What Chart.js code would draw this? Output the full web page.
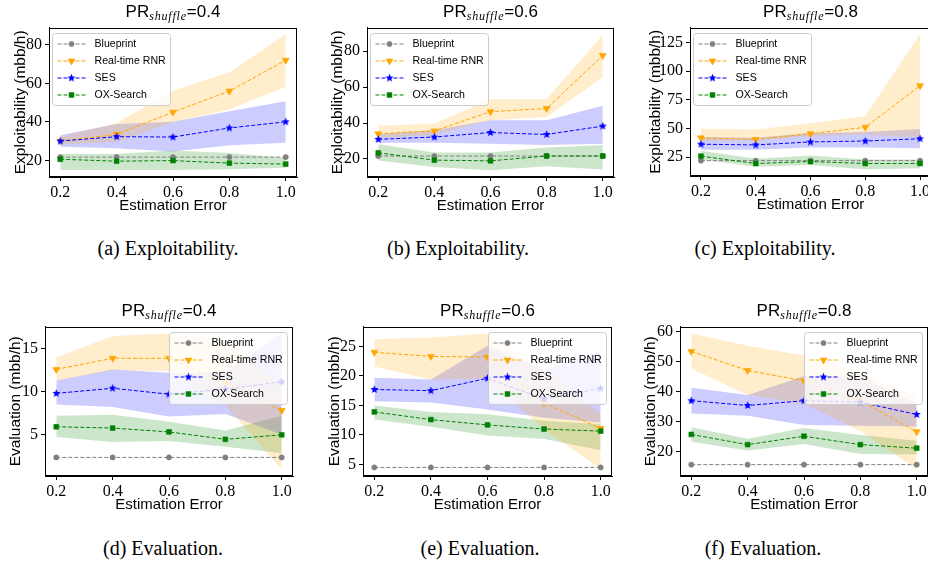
<!DOCTYPE html>
<html>
<head>
<meta charset="utf-8">
<title>Exploitability and evaluation vs estimation error</title>
<script src="https://cdn.jsdelivr.net/npm/chart.js@4.4.1/dist/chart.umd.min.js"></script>
<style>
  html, body { margin: 0; padding: 0; background: #fff; }
  body { position: relative; width: 928px; height: 564px; overflow: hidden; }
  .plot { position: absolute; }
  .ttl { position: absolute; width: 260px; text-align: center; font-family: "Liberation Sans", sans-serif;
         font-size: 17px; line-height: 20px; color: #000; white-space: nowrap; }
  .ttl sub { font-family: "Liberation Serif", serif; font-style: italic; font-size: 12px; line-height: 0;
             vertical-align: -3px; letter-spacing: 0.8px; }
  .cap { position: absolute; width: 300px; text-align: center; font-family: "Liberation Serif", serif;
         font-size: 20px; line-height: 24px; color: #000; }
</style>
</head>
<body>
<script>
// x values and labels shared by all six panels
const errors = [0.2, 0.4, 0.6, 0.8, 1.0];
const xTickValues = [0.2, 0.4, 0.6, 0.8, 1.0];
const seriesNames = ['Blueprint', 'Real-time RNR', 'SES', 'OX-Search'];

// (a) exploitability, PR_shuffle = 0.4
const a_yTicks = [20, 40, 60, 80];
const a_bp = [21.8, 21.8, 21.8, 21.8, 21.8];
const a_rnr = [30.1, 33.6, 45.1, 56.0, 72.0];
const a_rnrLo = [28.4, 29.7, 39.8, 46.5, 58.2];
const a_rnrHi = [32.2, 39.5, 56.2, 65.8, 85.4];
const a_ses = [30.1, 32.4, 32.2, 36.9, 40.1];
const a_sesLo = [27.2, 26.4, 24.7, 28.0, 29.2];
const a_sesHi = [33.1, 38.9, 40.1, 45.6, 50.7];
const a_ox = [20.7, 19.7, 20.0, 18.7, 18.2];
const a_oxLo = [15.1, 15.1, 15.1, 15.5, 16.3];
const a_oxHi = [23.4, 23.4, 25.2, 23.9, 21.3];

// (b) exploitability, PR_shuffle = 0.6
const b_yTicks = [20, 40, 60, 80];
const b_bp = [21.6, 21.6, 21.6, 21.6, 21.6];
const b_rnr = [34.0, 35.6, 46.3, 48.1, 77.7];
const b_rnrLo = [31.6, 33.4, 41.5, 43.3, 65.7];
const b_rnrHi = [38.5, 39.7, 53.2, 53.2, 89.4];
const b_ses = [30.9, 32.2, 34.7, 33.6, 38.3];
const b_sesLo = [29.0, 29.0, 28.4, 27.7, 28.4];
const b_sesHi = [33.8, 36.1, 41.5, 41.5, 49.6];
const b_ox = [23.4, 19.3, 18.9, 21.6, 21.6];
const b_oxLo = [19.1, 15.5, 13.7, 15.9, 14.1];
const b_oxHi = [28.1, 23.6, 23.6, 26.3, 27.7];

// (c) exploitability, PR_shuffle = 0.8
const c_yTicks = [25, 50, 75, 100, 125];
const c_bp = [21.9, 21.9, 21.9, 21.9, 21.9];
const c_rnr = [41.8, 40.4, 45.4, 51.0, 87.2];
const c_rnrLo = [39.0, 39.6, 43.2, 44.6, 42.0];
const c_rnrHi = [49.6, 49.1, 54.4, 60.9, 132.0];
const c_ses = [36.2, 35.6, 38.2, 39.0, 41.0];
const c_sesLo = [31.4, 31.4, 33.4, 33.4, 32.6];
const c_sesHi = [42.4, 41.8, 46.0, 46.8, 49.4];
const c_ox = [25.8, 19.4, 21.1, 19.4, 19.4];
const c_oxLo = [22.8, 16.6, 18.0, 14.4, 15.2];
const c_oxHi = [30.6, 23.6, 26.4, 22.8, 22.8];

// (d) evaluation, PR_shuffle = 0.4
const d_yTicks = [5, 10, 15];
const d_bp = [2.32, 2.32, 2.32, 2.32, 2.32];
const d_rnr = [12.6, 13.9, 13.9, 11.0, 7.8];
const d_rnrLo = [11.3, 12.5, 12.4, 8.4, 0.9];
const d_rnrHi = [14.0, 16.5, 16.8, 16.0, 11.0];
const d_ses = [9.8, 10.4, 9.7, 10.3, 11.15];
const d_sesLo = [8.5, 8.2, 7.1, 7.4, 5.0];
const d_sesHi = [11.3, 12.6, 12.2, 12.2, 16.8];
const d_ox = [5.9, 5.75, 5.3, 4.43, 4.96];
const d_oxLo = [4.7, 4.13, 4.25, 3.57, 2.8];
const d_oxHi = [7.2, 7.3, 6.5, 5.45, 7.2];

// (e) evaluation, PR_shuffle = 0.6
const e_yTicks = [5, 10, 15, 20, 25];
const e_bp = [4.5, 4.5, 4.5, 4.5, 4.5];
const e_rnr = [24.0, 23.3, 23.2, 15.4, 11.1];
const e_rnrLo = [21.6, 19.4, 19.5, 11.0, 4.2];
const e_rnrHi = [26.2, 26.5, 27.2, 21.0, 13.5];
const e_ses = [17.7, 17.5, 19.6, 16.1, 17.9];
const e_sesLo = [15.7, 15.5, 14.3, 12.9, 12.1];
const e_sesHi = [19.7, 19.4, 25.1, 21.0, 24.2];
const e_ox = [13.9, 12.6, 11.7, 11.0, 10.65];
const e_oxLo = [12.6, 11.4, 9.9, 9.3, 7.4];
const e_oxHi = [15.0, 13.9, 13.5, 12.4, 11.8];

// (f) evaluation, PR_shuffle = 0.8
const f_yTicks = [20, 30, 40, 50, 60];
const f_bp = [15.6, 15.6, 15.6, 15.6, 15.6];
const f_rnr = [53.5, 47.1, 43.7, 37.0, 26.6];
const f_rnrLo = [47.8, 38.9, 36.0, 26.8, 14.1];
const f_rnrHi = [59.5, 55.4, 52.1, 46.0, 38.7];
const f_ses = [37.0, 35.4, 37.0, 36.5, 32.4];
const f_sesLo = [32.7, 32.0, 28.9, 28.6, 28.4];
const f_sesHi = [41.3, 38.9, 45.3, 45.1, 36.0];
const f_ox = [25.7, 22.3, 25.1, 22.3, 21.1];
const f_oxLo = [23.3, 20.3, 22.5, 19.2, 19.0];
const f_oxHi = [28.1, 24.3, 27.9, 25.5, 23.6];

// small filled star used as the SES marker
function starImage(color, r) {
    const c = document.createElement('canvas');
    const s = Math.ceil(r * 2 + 2);
    c.width = c.height = s;
    const g = c.getContext('2d');
    g.fillStyle = color;
    g.beginPath();
    for (let k = 0; k < 10; k++) {
        const rr = k % 2 ? r * 0.45 : r;
        const a = -Math.PI / 2 + k * Math.PI / 5;
        g.lineTo(s / 2 + rr * Math.cos(a), s / 2 + rr * Math.sin(a));
    }
    g.closePath();
    g.fill();
    return c;
}

const styles = [
    { color: '#808080', fill: null, point: 'circle', radius: 2.6, rotation: 0 },
    { color: '#ffa500', fill: 'rgba(255,165,0,0.2)', point: 'triangle', radius: 4, rotation: 180 },
    { color: '#0000ff', fill: 'rgba(0,0,255,0.2)', point: starImage('#0000ff', 4.2), radius: 4, rotation: 0 },
    { color: '#008000', fill: 'rgba(0,128,0,0.2)', point: 'rect', radius: 3.4, rotation: 0 }
];

const expLabel = 'Exploitability (mbb/h)';
const evalLabel = 'Evaluation (mbb/h)';

// box = axes frame in page pixels [left, top, right, bottom], yw = room for y ticks + title
const panels = [
    { pr: '0.4', yLabel: expLabel, yMin: 11.5, yMax: 88.9, yTicks: a_yTicks, legend: 'left',
      box: [49, 23, 297, 177], yw: 38, caption: '(a) Exploitability.', capX: 168, capY: 236,
      means: [a_bp, a_rnr, a_ses, a_ox], bands: [null, [a_rnrLo, a_rnrHi], [a_sesLo, a_sesHi], [a_oxLo, a_oxHi]] },
    { pr: '0.6', yLabel: expLabel, yMin: 9.9, yMax: 93.2, yTicks: b_yTicks, legend: 'left',
      box: [367, 23, 614, 177], yw: 39, caption: '(b) Exploitability.', capX: 458, capY: 236,
      means: [b_bp, b_rnr, b_ses, b_ox], bands: [null, [b_rnrLo, b_rnrHi], [b_sesLo, b_sesHi], [b_oxLo, b_oxHi]] },
    { pr: '0.8', yLabel: expLabel, yMin: 8.5, yMax: 137.9, yTicks: c_yTicks, legend: 'left',
      box: [690, 23, 931, 176], yw: 44, caption: '(c) Exploitability.', capX: 765, capY: 236,
      means: [c_bp, c_rnr, c_ses, c_ox], bands: [null, [c_rnrLo, c_rnrHi], [c_sesLo, c_sesHi], [c_oxLo, c_oxHi]] },
    { pr: '0.4', yLabel: evalLabel, yMin: 0.15, yMax: 17.6, yTicks: d_yTicks, legend: 'right',
      box: [45, 322, 293, 476], yw: 39, caption: '(d) Evaluation.', capX: 163, capY: 536,
      means: [d_bp, d_rnr, d_ses, d_ox], bands: [null, [d_rnrLo, d_rnrHi], [d_sesLo, d_sesHi], [d_oxLo, d_oxHi]] },
    { pr: '0.6', yLabel: evalLabel, yMin: 3.05, yMax: 28.35, yTicks: e_yTicks, legend: 'right',
      box: [363, 322, 612, 476], yw: 38, caption: '(e) Evaluation.', capX: 480, capY: 536,
      means: [e_bp, e_rnr, e_ses, e_ox], bands: [null, [e_rnrLo, e_rnrHi], [e_sesLo, e_sesHi], [e_oxLo, e_oxHi]] },
    { pr: '0.8', yLabel: evalLabel, yMin: 11.8, yMax: 61.8, yTicks: f_yTicks, legend: 'right',
      box: [680, 322, 928, 476], yw: 39, caption: '(f) Evaluation.', capX: 763, capY: 536,
      means: [f_bp, f_rnr, f_ses, f_ox], bands: [null, [f_rnrLo, f_rnrHi], [f_sesLo, f_sesHi], [f_oxLo, f_oxHi]] }
];

const PAD_TOP = 8, PAD_RIGHT = 6, X_AXIS_H = 38;

function pts(arr) {
    return errors.map((x, i) => ({ x: x, y: arr[i] }));
}

function buildDatasets(p) {
    const ds = [];
    p.means.forEach((m, k) => {
        const st = styles[k];
        ds.push({
            label: seriesNames[k], data: pts(m),
            borderColor: st.color, backgroundColor: st.color, borderWidth: 1, borderDash: [4, 2],
            pointStyle: st.point, pointRadius: st.radius, pointRotation: st.rotation,
            pointBackgroundColor: st.color, pointBorderColor: st.color, pointBorderWidth: 0.6,
            fill: false, tension: 0, order: 4 - k
        });
    });
    p.bands.forEach((b, k) => {
        if (!b) return;
        const st = styles[k];
        // upper edge fills down to the lower edge pushed right after it
        ds.push({ label: seriesNames[k] + ' upper', data: pts(b[1]), borderColor: 'rgba(0,0,0,0)',
                  borderWidth: 0, pointRadius: 0, backgroundColor: st.fill, fill: '+1', order: 10 });
        ds.push({ label: seriesNames[k] + ' lower', data: pts(b[0]), borderColor: 'rgba(0,0,0,0)',
                  borderWidth: 0, pointRadius: 0, fill: false, order: 10 });
    });
    return ds;
}

// axes frame + matplotlib-like legend drawn inside the plot area
const insideLegend = {
    id: 'insideLegend',
    afterDraw(chart, args, opts) {
        const ctx = chart.ctx;
        const ca = chart.chartArea;
        ctx.save();
        const l = Math.round(ca.left) + 0.5, t = Math.round(ca.top) + 0.5;
        const r = Math.round(ca.right) - 0.5, b = Math.round(ca.bottom) - 0.5;
        ctx.strokeStyle = '#000';
        ctx.lineWidth = 1;
        ctx.strokeRect(l, t, r - l, b - t);

        const w = 118, h = 72;
        const x0 = opts.side === 'right' ? Math.round(ca.right) - 6 - w + 0.5 : Math.round(ca.left) + 3.5;
        const y0 = Math.round(ca.top) + 5.5;
        ctx.beginPath();
        if (ctx.roundRect) ctx.roundRect(x0, y0, w, h, 3); else ctx.rect(x0, y0, w, h);
        ctx.fillStyle = 'rgba(255,255,255,0.8)';
        ctx.fill();
        ctx.strokeStyle = '#cccccc';
        ctx.stroke();

        seriesNames.forEach((name, k) => {
            const st = styles[k];
            const y = Math.round(y0 + 10 + k * 17);
            ctx.setLineDash([4, 2]);
            ctx.strokeStyle = st.color;
            ctx.lineWidth = 1;
            ctx.beginPath();
            ctx.moveTo(x0 + 5, y);
            ctx.lineTo(x0 + 33, y);
            ctx.stroke();
            ctx.setLineDash([]);
            ctx.fillStyle = st.color;
            ctx.lineWidth = 0.6;
            Chart.helpers.drawPoint(ctx, { pointStyle: st.point, rotation: st.rotation, radius: st.radius, borderWidth: 0.6 }, x0 + 19, y);
            ctx.fillStyle = '#000';
            ctx.font = '10.6px "Liberation Sans"';
            ctx.textBaseline = 'middle';
            ctx.textAlign = 'left';
            ctx.fillText(name, x0 + 42, y + 0.5);
        });
        ctx.restore();
    }
};

Chart.defaults.font.family = '"Liberation Serif", serif';
Chart.defaults.color = '#000';

panels.forEach(p => {
    const [bl, bt, br, bb] = p.box;
    const wrap = document.createElement('div');
    wrap.className = 'plot';
    const cw = p.yw + (br - bl) + PAD_RIGHT;
    const ch = PAD_TOP + (bb - bt) + X_AXIS_H;
    wrap.style.left = (bl - p.yw) + 'px';
    wrap.style.top = (bt - PAD_TOP) + 'px';
    wrap.style.width = cw + 'px';
    wrap.style.height = ch + 'px';
    const canvas = document.createElement('canvas');
    canvas.width = cw;
    canvas.height = ch;
    wrap.appendChild(canvas);
    document.body.appendChild(wrap);

    const ttl = document.createElement('div');
    ttl.className = 'ttl';
    ttl.style.left = ((bl + br) / 2 - 130) + 'px';
    ttl.style.top = (bt - 21) + 'px';
    ttl.innerHTML = 'PR<sub>shuffle</sub>=' + p.pr;
    document.body.appendChild(ttl);

    const cap = document.createElement('div');
    cap.className = 'cap';
    cap.style.left = (p.capX - 150) + 'px';
    cap.style.top = p.capY + 'px';
    cap.textContent = p.caption;
    document.body.appendChild(cap);

    new Chart(canvas.getContext('2d'), {
        type: 'line',
        data: { datasets: buildDatasets(p) },
        plugins: [insideLegend],
        options: {
            responsive: false,
            animation: false,
            events: [],
            layout: { padding: { top: PAD_TOP, right: PAD_RIGHT, left: 0, bottom: 0 } },
            plugins: {
                legend: { display: false },
                tooltip: { enabled: false },
                filler: { drawTime: 'beforeDatasetsDraw' },
                insideLegend: { side: p.legend }
            },
            scales: {
                x: {
                    type: 'linear', min: 0.16, max: 1.04, bounds: 'data',
                    afterBuildTicks: s => { s.ticks = xTickValues.map(v => ({ value: v })); },
                    afterFit: s => { s.height = X_AXIS_H; },
                    ticks: { font: { size: 16 }, padding: 2, maxRotation: 0, callback: v => v.toFixed(1) },
                    grid: { display: true, drawOnChartArea: false, drawTicks: true, tickLength: 4, color: '#000' },
                    border: { display: true, color: '#000', width: 1 },
                    title: { display: true, text: 'Estimation Error', padding: 0,
                             font: { family: '"Liberation Sans", sans-serif', size: 15 } }
                },
                y: {
                    type: 'linear', min: p.yMin, max: p.yMax, bounds: 'data',
                    afterBuildTicks: s => { s.ticks = p.yTicks.map(v => ({ value: v })); },
                    afterFit: s => { s.width = p.yw; },
                    ticks: { font: { size: 16 }, padding: 3, callback: v => String(v) },
                    grid: { display: true, drawOnChartArea: false, drawTicks: true, tickLength: 4, color: '#000' },
                    border: { display: true, color: '#000', width: 1 },
                    title: { display: true, text: p.yLabel, padding: 0,
                             font: { family: '"Liberation Sans", sans-serif', size: 15.5 } }
                }
            }
        }
    });
});
</script>
</body>
</html>
